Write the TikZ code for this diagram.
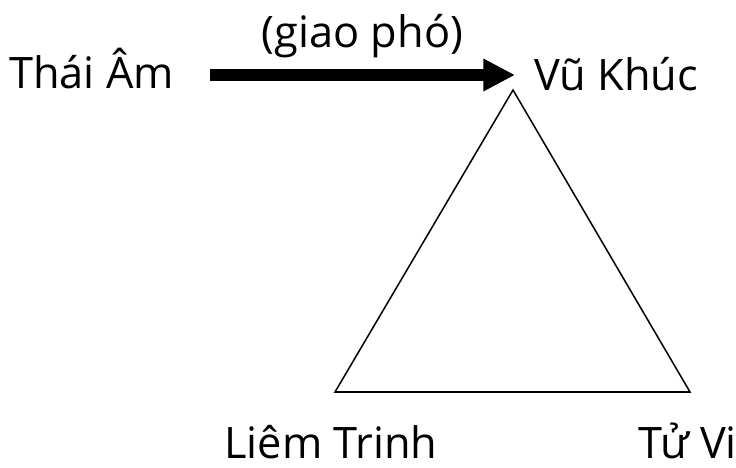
\documentclass[tikz,border=0pt]{standalone}
\usepackage{fontspec}
\setmainfont{Open Sans}
\usepackage{tikz}
\usetikzlibrary{calc,positioning,arrows.meta}
\tikzset{
    sao/.style={inner sep=0mm, anchor=base west, font=\fontsize{37}{44}\selectfont},
    giaophó/.style={line width=10pt, -{Triangle[length=27pt, width=26pt]}},
    canh/.style={line width=1.3pt, line join=miter},
    node distance=1.5
}
\begin{document}
\begin{tikzpicture}[x=0.03cm, y=-0.03cm]
			\useasboundingbox (0,0) rectangle (736,467);
			\node[sao] (thai) at (9,88) {Thái Âm};
			\node[sao] (vu) at (534,90) {Vũ Khúc};
			\node[sao] (liem) at (224,458) {Liêm Trinh};
			\node[sao] (tuvi) at (638,458) {Tử Vi};

			\coordinate (a1) at (210,75);
			\coordinate (a2) at (515,75);
			\coordinate (v1) at (513,90);
			\coordinate (v2) at (335,392);
			\coordinate (v3) at (690,392);

			\draw[giaophó] (a1) -- node[sao, anchor=base, above=10pt] (giao) {(giao phó)} (a2);
			\draw[canh] (v1) -- (v2) -- (v3) -- cycle;
		\end{tikzpicture}
\end{document}
